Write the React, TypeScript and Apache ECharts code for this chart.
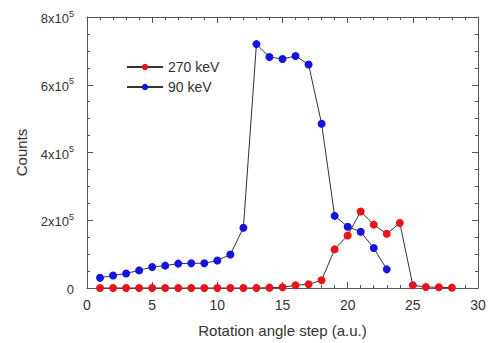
import React, { useEffect, useRef } from "react";
import * as echarts from "echarts";

const steps90 = [1,2,3,4,5,6,7,8,9,10,11,12,13,14,15,16,17,18,19,20,21,22,23];
const counts90 = [30000,37000,43000,52000,62000,66000,72000,73000,73000,81000,99000,178000,720000,682000,676000,685000,660000,485000,213000,181000,166000,118000,55000];
const steps270 = [1,2,3,4,5,6,7,8,9,10,11,12,13,14,15,16,17,18,19,20,21,22,23,24,25,26,27,28];
const counts270 = [0,0,0,0,0,0,0,0,0,0,0,0,0,1000,2000,8000,11000,23000,114000,155000,226000,187000,160000,192000,8000,3000,2000,1000];
const seriesNames = ["270 keV", "90 keV"];
const xTitle = "Rotation angle step (a.u.)";
const yTitle = "Counts";

export default function App() {
  const ref = useRef<HTMLDivElement>(null);
  useEffect(() => {
    if (!ref.current) return;
    const chart = echarts.init(ref.current, undefined, { renderer: "svg" });
    const axisCommon = {
      axisLine: { show: true, onZero: false, lineStyle: { color: "#555", width: 1 } },
      axisTick: { show: true, inside: true, length: 6, lineStyle: { color: "#555" } },
      minorTick: { show: true, length: 3, lineStyle: { color: "#555" } },
      splitLine: { show: false },
    };
    const font = "Liberation Sans, Arial, sans-serif";
    chart.setOption({
      animation: false,
      textStyle: { fontFamily: font },
      grid: { left: 87, right: 13, top: 17, bottom: 53 },
      legend: {
        orient: "vertical",
        left: 121,
        top: 55,
        itemWidth: 36,
        itemHeight: 8,
        itemGap: 6,
        textStyle: { fontSize: 14, color: "#333", fontFamily: font },
        data: seriesNames,
      },
      xAxis: [
        {
          ...axisCommon,
          type: "value",
          min: 0,
          max: 30,
          interval: 5,
          minorTick: { ...axisCommon.minorTick, splitNumber: 5 },
          axisLabel: { fontSize: 14, color: "#333", margin: 10, fontFamily: font },
          name: xTitle,
          nameLocation: "middle",
          nameGap: 35,
          nameTextStyle: { fontSize: 15, color: "#333", fontFamily: font },
        },
        {
          ...axisCommon,
          type: "value",
          position: "top",
          min: 0,
          max: 30,
          interval: 5,
          minorTick: { ...axisCommon.minorTick, splitNumber: 5 },
          axisLabel: { show: false },
        },
      ],
      yAxis: [
        {
          ...axisCommon,
          type: "value",
          min: 0,
          max: 800000,
          interval: 200000,
          minorTick: { ...axisCommon.minorTick, splitNumber: 4 },
          axisLabel: {
            margin: 13,
            color: "#333",
            fontFamily: font,
            formatter: (v: number) => (v === 0 ? "{a|0}" : `{a|${v / 100000}x10}{s|5}`),
            rich: {
              a: { fontSize: 13, color: "#333", fontFamily: font, lineHeight: 16, verticalAlign: "bottom" },
              s: { fontSize: 9, color: "#333", fontFamily: font, lineHeight: 16, verticalAlign: "top", padding: [0, 0, 5, 0] },
            },
          },
          name: yTitle,
          nameLocation: "middle",
          nameGap: 58,
          nameTextStyle: { fontSize: 15, color: "#333", fontFamily: font },
        },
        {
          ...axisCommon,
          type: "value",
          position: "right",
          min: 0,
          max: 800000,
          interval: 200000,
          minorTick: { ...axisCommon.minorTick, splitNumber: 4 },
          axisLabel: { show: false },
        },
      ],
      series: [
        {
          name: seriesNames[0],
          type: "line",
          data: steps270.map((s, i) => [s, counts270[i]]),
          symbol: "circle",
          symbolSize: 8,
          itemStyle: { color: "#e8141a" },
          lineStyle: { color: "#333", width: 1 },
          z: 3,
        },
        {
          name: seriesNames[1],
          type: "line",
          data: steps90.map((s, i) => [s, counts90[i]]),
          symbol: "circle",
          symbolSize: 8,
          itemStyle: { color: "#1414e0" },
          lineStyle: { color: "#333", width: 1 },
          z: 2,
        },
      ],
    });
    return () => chart.dispose();
  }, []);
  return <div ref={ref} style={{ width: 491, height: 343, position: "absolute", left: 0, top: 0, background: "#fff" }} />;
}
